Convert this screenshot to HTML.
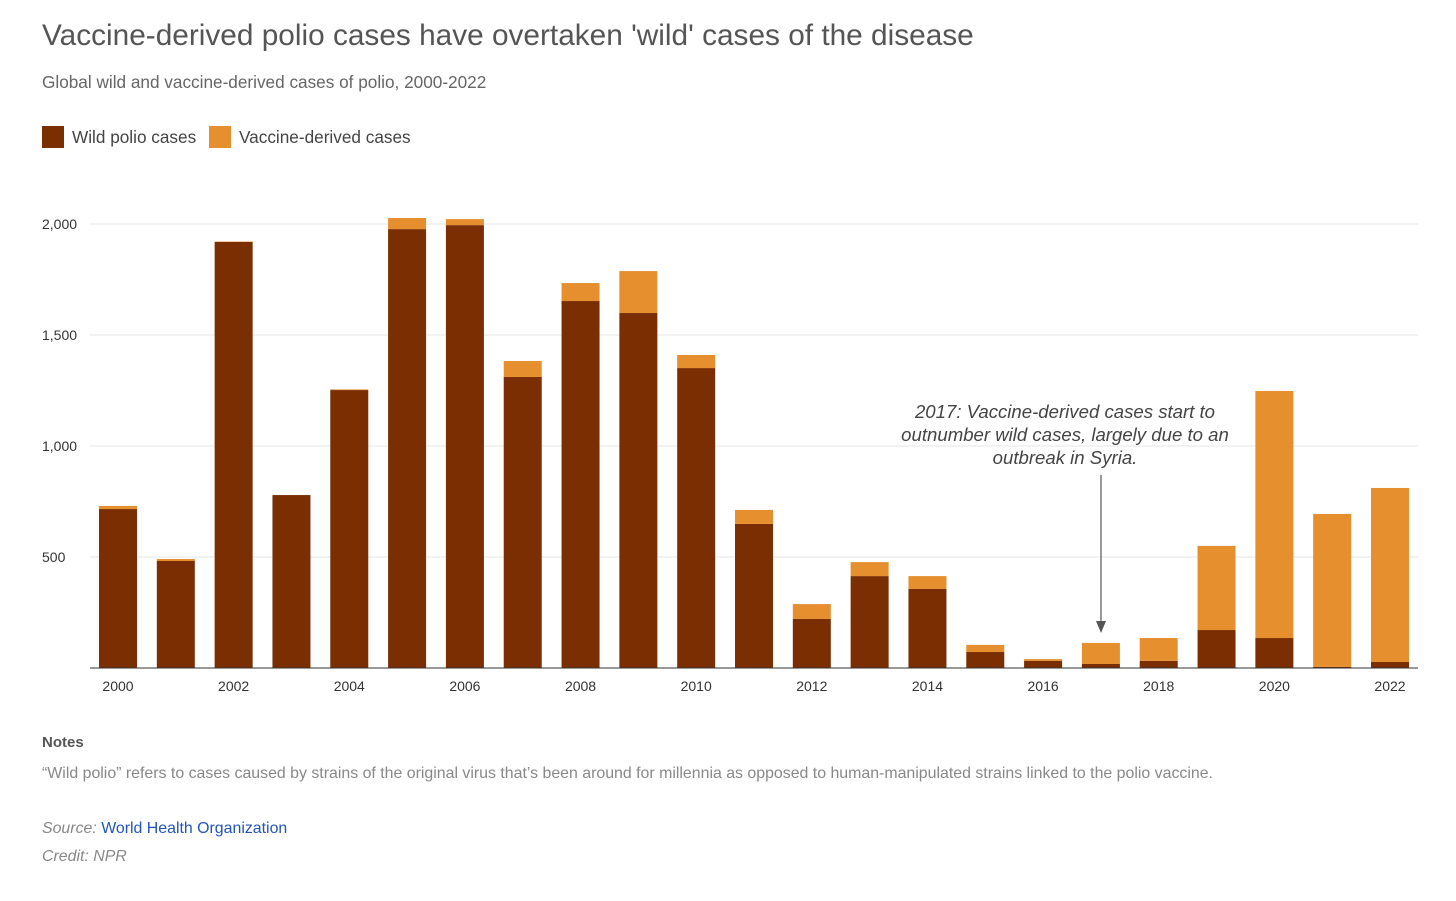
<!DOCTYPE html>
<html><head><meta charset="utf-8"><style>
body{margin:0;background:#fff;font-family:"Liberation Sans",sans-serif;width:1456px;height:901px;overflow:hidden;position:relative}
.t{position:absolute;white-space:nowrap}
</style></head><body>
<div class="t" style="left:42px;top:19px;font-size:29.8px;color:#555">Vaccine-derived polio cases have overtaken 'wild' cases of the disease</div>
<div class="t" style="left:42px;top:72px;font-size:17.2px;color:#666">Global wild and vaccine-derived cases of polio, 2000-2022</div>
<div class="t" style="left:42px;top:126px;font-size:17.2px;color:#444"><span style="display:inline-block;width:22px;height:22px;background:#7a2e02;vertical-align:-5px;margin-right:8px"></span>Wild polio cases</div>
<div class="t" style="left:209px;top:126px;font-size:17.2px;color:#444"><span style="display:inline-block;width:22px;height:22px;background:#e58f2f;vertical-align:-5px;margin-right:8px"></span>Vaccine-derived cases</div>
<svg id="chart" width="1456" height="720" style="position:absolute;left:0;top:0"></svg>
<div class="t" style="left:42px;top:734px;font-size:15px;font-weight:bold;color:#555">Notes</div>
<div class="t" style="left:42px;top:765px;font-size:15.9px;color:#888">“Wild polio” refers to cases caused by strains of the original virus that’s been around for millennia as opposed to human-manipulated strains linked to the polio vaccine.</div>
<div class="t" style="left:42px;top:820px;font-size:15.9px;color:#888"><i>Source:</i> <span style="color:#2255bb">World Health Organization</span></div>
<div class="t" style="left:42px;top:848px;font-size:15.9px;color:#888;font-style:italic">Credit: NPR</div>
<script>
const years=[2000,2001,2002,2003,2004,2005,2006,2007,2008,2009,2010,2011,2012,2013,2014,2015,2016,2017,2018,2019,2020,2021,2022];
const wild=[716,482,1919,779,1252,1977,1995,1311,1653,1599,1351,649,221,414,356,72,32,18,32,171,135,5,27];
const vaccine=[14,9,2,0,3,50,27,72,81,189,59,63,67,63,58,32,8,95,103,379,1113,689,784];
const yTicks=[500,1000,1500,2000];
const ns="http://www.w3.org/2000/svg",svg=document.getElementById('chart');
const y0=668,k=444/2000,x0=118,step=(1390-118)/22,bw=38;
const y=v=>y0-v*k, x=i=>x0+i*step;
function mk(t,a){const e=document.createElementNS(ns,t);for(const n in a)e.setAttribute(n,a[n]);svg.appendChild(e);return e;}
yTicks.forEach(v=>{
 const l=mk('line',{x1:90,x2:1418,y1:y(v),y2:y(v),stroke:'#e4e4e4'});
 
 
 const t=mk('text',{x:42,y:y(v)+5,'font-size':14,fill:'#333'});t.textContent=v.toLocaleString('en-US');
 
 
});
years.forEach((yr,i)=>{
 const w=mk('rect',{x:x(i)-bw/2,y:y(wild[i]),width:bw,height:wild[i]*k,fill:'#7a2e02'});
 
 
 const v=mk('rect',{x:x(i)-bw/2,y:y(wild[i]+vaccine[i]),width:bw,height:vaccine[i]*k,fill:'#e58f2f'});
 
 
 if(i%2==0){const t=mk('text',{x:x(i),y:691,'font-size':14,fill:'#333','text-anchor':'middle'});t.textContent=yr;
 
 }
});
const ax=mk('line',{x1:90,x2:1418,y1:y0,y2:y0,stroke:'#333'});


const ann=["2017: Vaccine-derived cases start to","outnumber wild cases, largely due to an","outbreak in Syria."];
ann.forEach((s,j)=>{const t=mk('text',{x:1065,y:418+j*23,'font-size':18.6,fill:'#444','font-style':'italic','text-anchor':'middle'});t.textContent=s;
 
 });
const al=mk('line',{x1:1101,x2:1101,y1:475,y2:622,stroke:'#555','stroke-width':1.2});


const ah=mk('path',{d:'M1096,621 L1106,621 L1101,633 Z',fill:'#555'});


</script>
</body></html>
